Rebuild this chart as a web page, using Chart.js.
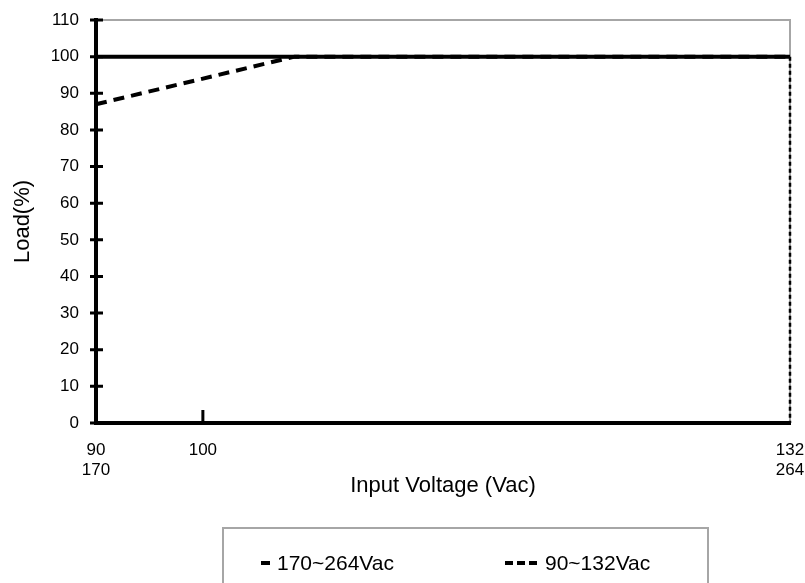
<!DOCTYPE html>
<html>
<head>
<meta charset="utf-8">
<script src="https://cdn.jsdelivr.net/npm/chart.js@4.4.1/dist/chart.umd.min.js"></script>
<style>
html, body { margin: 0; padding: 0; background: #fff; }
#wrap { position: relative; width: 805px; height: 583px; overflow: hidden; }
#legend {
    position: absolute; left: 222px; top: 527px; width: 487px; height: 90px;
    border: 2px solid #a6a6a6; box-sizing: border-box;
    font-family: "Liberation Sans", Arial, sans-serif; font-size: 21px; color: #000;
}
.item { position: absolute; top: 22px; display: flex; align-items: center; white-space: nowrap; }
.item canvas { margin-right: 7px; }
</style>
</head>
<body>
<div id="wrap">
    <canvas id="lineGraph" width="805" height="583"></canvas>
    <div id="legend"></div>
</div>
<script>
// series data
const seriesNames = ['170~264Vac', '90~132Vac'];
const highLineVolt = [90, 132];
const highLineLoad = [100, 100];
const lowLineVolt = [90, 105, 132, 132];
const lowLineLoad = [87, 100, 100, 0];

// axis ticks
const xTickValues = [90, 100, 132];
const xTickLabels = [['90', '170'], '100', ['132', '264']];
const yMin = 0, yMax = 110, yStep = 10;

const FONT = '"Liberation Sans", Arial, sans-serif';

// x axis of the original is not evenly spaced: 90 -> 100 is short, 100 -> 132 long
class PiecewiseScale extends Chart.LinearScale {
    _frac(v) {
        const vals = this.options.breaks, stops = this.options.stops;
        if (v <= vals[0]) return stops[0];
        for (let i = 1; i < vals.length; i++) {
            if (v <= vals[i]) {
                const t = (v - vals[i - 1]) / (vals[i] - vals[i - 1]);
                return stops[i - 1] + t * (stops[i] - stops[i - 1]);
            }
        }
        return stops[stops.length - 1];
    }
    getPixelForValue(value) {
        return this.getPixelForDecimal(this._frac(value));
    }
    getValueForPixel(pixel) {
        const d = this.getDecimalForPixel(pixel);
        const vals = this.options.breaks, stops = this.options.stops;
        for (let i = 1; i < stops.length; i++) {
            if (d <= stops[i]) {
                const t = (d - stops[i - 1]) / (stops[i] - stops[i - 1]);
                return vals[i - 1] + t * (vals[i] - vals[i - 1]);
            }
        }
        return vals[vals.length - 1];
    }
}
PiecewiseScale.id = 'piecewise';
PiecewiseScale.defaults = Chart.LinearScale.defaults;
Chart.register(PiecewiseScale);

// gray frame on top/right + tick marks crossing the black axes
const framePlugin = {
    id: 'frame',
    beforeDatasetsDraw(chart) {
        const {ctx, chartArea: a, scales} = chart;
        ctx.save();
        ctx.strokeStyle = '#a6a6a6';
        ctx.lineWidth = 2;
        ctx.beginPath();
        ctx.moveTo(a.left, a.top);
        ctx.lineTo(a.right, a.top);
        ctx.lineTo(a.right, a.bottom);
        ctx.stroke();

        ctx.strokeStyle = '#000';
        ctx.lineWidth = 3;
        ctx.beginPath();
        scales.y.ticks.forEach(t => {
            const y = scales.y.getPixelForValue(t.value);
            ctx.moveTo(a.left - 6, y);
            ctx.lineTo(a.left + 7, y);
        });
        xTickValues.forEach(v => {
            if (v <= scales.x.min || v >= scales.x.max) return;
            const x = scales.x.getPixelForValue(v);
            ctx.moveTo(x, a.bottom);
            ctx.lineTo(x, a.bottom - 13);
        });
        ctx.stroke();
        ctx.restore();
    }
};

const vertical = (ctx, a, b) =>
    ctx.p0.parsed.x === ctx.p1.parsed.x ? a : b;

const lineChart = document.getElementById('lineGraph');
const chart = new Chart(lineChart, {
    type: 'line',
    data: {
        datasets: [{
            label: seriesNames[0],
            data: highLineVolt.map((v, i) => ({x: v, y: highLineLoad[i]})),
            borderColor: '#000',
            borderWidth: 4,
            pointRadius: 0,
            fill: false,
            clip: 6
        }, {
            label: seriesNames[1],
            data: lowLineVolt.map((v, i) => ({x: v, y: lowLineLoad[i]})),
            borderColor: '#000',
            borderWidth: 4,
            borderDash: [11, 7],
            pointRadius: 0,
            fill: false,
            clip: 6,
            segment: {
                borderDash: ctx => vertical(ctx, [4, 3], [11, 7]),
                borderWidth: ctx => vertical(ctx, 2.5, 4)
            }
        }]
    },
    options: {
        responsive: false,
        devicePixelRatio: 1,
        animation: false,
        layout: {padding: {top: 20, bottom: 84, left: 0, right: 15}},
        plugins: {legend: {display: false}, tooltip: {enabled: false}},
        scales: {
            x: {
                type: 'piecewise',
                breaks: [90, 100, 132],
                stops: [0, 0.154, 1],
                min: 90,
                max: 132,
                afterBuildTicks: s => { s.ticks = xTickValues.map(v => ({value: v})); },
                afterFit: s => { s.height = 76; s.paddingRight = 0; s.paddingLeft = 0; },
                ticks: {
                    autoSkip: false,
                    maxRotation: 0,
                    padding: 17,
                    color: '#000',
                    font: {family: FONT, size: 17},
                    callback: v => xTickLabels[xTickValues.indexOf(v)]
                },
                grid: {display: true, drawOnChartArea: false, drawTicks: false},
                border: {display: true, color: '#000', width: 4},
                title: {
                    display: true,
                    text: 'Input Voltage (Vac)',
                    color: '#000',
                    font: {family: FONT, size: 22},
                    padding: {top: 0, bottom: 0}
                }
            },
            y: {
                min: yMin,
                max: yMax,
                afterFit: s => { s.width = 96; s.paddingTop = 0; s.paddingBottom = 0; },
                ticks: {
                    stepSize: yStep,
                    padding: 17,
                    color: '#000',
                    font: {family: FONT, size: 17}
                },
                grid: {display: true, drawOnChartArea: false, drawTicks: false},
                border: {display: true, color: '#000', width: 4},
                title: {
                    display: true,
                    text: 'Load(%)',
                    color: '#000',
                    font: {family: FONT, size: 22},
                    padding: {top: 10, bottom: 0}
                }
            }
        }
    },
    plugins: [framePlugin]
});

// legend box under the chart, built from the datasets
const sampleWidths = [9, 33];
const itemLefts = [37, 281];
const legend = document.getElementById('legend');
chart.data.datasets.forEach((ds, i) => {
    const item = document.createElement('div');
    item.className = 'item';
    item.style.left = itemLefts[i] + 'px';
    const c = document.createElement('canvas');
    c.width = sampleWidths[i];
    c.height = 10;
    const g = c.getContext('2d');
    g.strokeStyle = ds.borderColor;
    g.lineWidth = 4;
    g.setLineDash(ds.borderDash ? [8, 4] : []);
    g.beginPath();
    g.moveTo(0, 5);
    g.lineTo(c.width, 5);
    g.stroke();
    item.appendChild(c);
    const span = document.createElement('span');
    span.textContent = ds.label;
    item.appendChild(span);
    legend.appendChild(item);
});
</script>
</body>
</html>
